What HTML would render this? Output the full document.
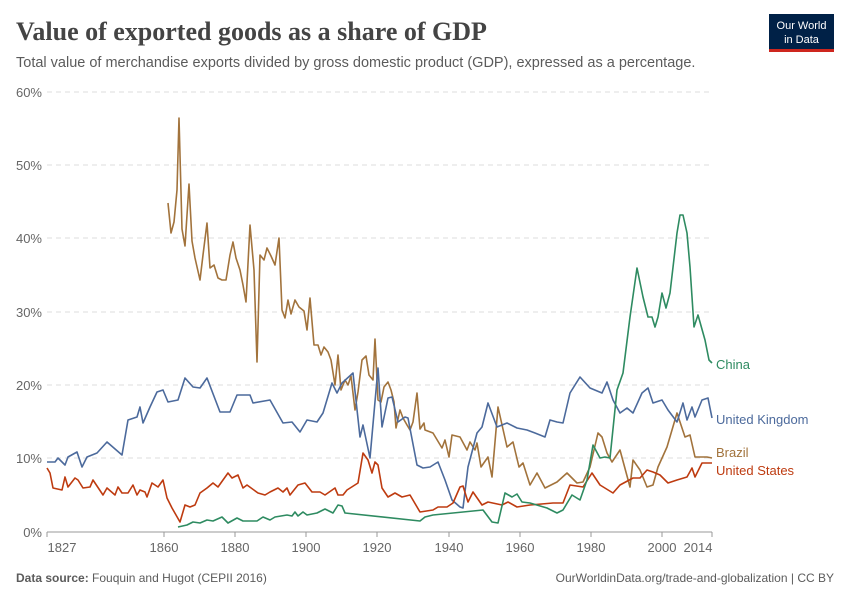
<!DOCTYPE html>
<html><head><meta charset="utf-8"><style>
body{margin:0;width:850px;height:600px;background:#fff;overflow:hidden;font-family:"Liberation Sans",sans-serif}
</style></head><body>
<svg width="850" height="600" xmlns="http://www.w3.org/2000/svg" font-family="Liberation Sans, sans-serif">
<text x="16" y="40" font-family="Liberation Serif, serif" font-weight="bold" font-size="26" fill="#444">Value of exported goods as a share of GDP</text>
<text x="16" y="67" font-size="14.5" fill="#5b5b5b">Total value of merchandise exports divided by gross domestic product (GDP), expressed as a percentage.</text>
<rect x="769" y="14" width="65" height="36" fill="#002147"/>
<rect x="769" y="49" width="65" height="3" fill="#ce261e"/>
<text x="801.5" y="29" font-size="11" fill="#fff" text-anchor="middle">Our World</text>
<text x="801.5" y="43" font-size="11" fill="#fff" text-anchor="middle">in Data</text>
<g stroke="#ddd" stroke-dasharray="5,4" stroke-width="1">
<line x1="47" x2="712" y1="92" y2="92"/><line x1="47" x2="712" y1="165" y2="165"/><line x1="47" x2="712" y1="238" y2="238"/><line x1="47" x2="712" y1="312" y2="312"/><line x1="47" x2="712" y1="385" y2="385"/><line x1="47" x2="712" y1="458" y2="458"/>
</g>
<line x1="47" x2="712" y1="532" y2="532" stroke="#999"/>
<g stroke="#999"><line x1="47" x2="47" y1="532" y2="537"/><line x1="164" x2="164" y1="532" y2="537"/><line x1="235" x2="235" y1="532" y2="537"/><line x1="306" x2="306" y1="532" y2="537"/><line x1="377" x2="377" y1="532" y2="537"/><line x1="449" x2="449" y1="532" y2="537"/><line x1="520" x2="520" y1="532" y2="537"/><line x1="591" x2="591" y1="532" y2="537"/><line x1="662" x2="662" y1="532" y2="537"/><line x1="712" x2="712" y1="532" y2="537"/></g>
<g font-size="13" fill="#666">
<text x="42" y="97" text-anchor="end">60%</text><text x="42" y="170" text-anchor="end">50%</text><text x="42" y="243" text-anchor="end">40%</text><text x="42" y="317" text-anchor="end">30%</text><text x="42" y="390" text-anchor="end">20%</text><text x="42" y="463" text-anchor="end">10%</text><text x="42" y="537" text-anchor="end">0%</text>
<g text-anchor="middle"><text x="62" y="552">1827</text><text x="164" y="552">1860</text><text x="235" y="552">1880</text><text x="306" y="552">1900</text><text x="377" y="552">1920</text><text x="449" y="552">1940</text><text x="520" y="552">1960</text><text x="591" y="552">1980</text><text x="662" y="552">2000</text><text x="698" y="552">2014</text></g>
</g>
<g fill="none" stroke-width="1.6" stroke-linejoin="round">
<polyline stroke="#a2733c" points="168,203 171,233 174,222 177,190 179,118 182,229 185,246 189,184 192,241 195,258 200,280 203,255 207,223 210,268 214,265 218,278 222,280 226,280 230,255 233,242 236,258 240,270 243,285 246,302 250,225 254,270 257,362 260,255 264,260 267,248 271,256 275,265 279,238 282,310 285,318 288,300 291,314 295,300 299,307 304,311 307,330 310,298 314,345 318,345 321,355 324,347 328,352 331,360 335,385 338,355 341,390 345,380 348,385 351,376 355,410 358,392 362,360 366,356 369,375 373,380 375,339 378,400 381,402 384,387 388,382 391,390 394,402 396,428 400,410 403,418 407,425 410,430 413,422 417,393 420,429 424,423 425,430 433,433 442,448 445,440 449,457 452,435 460,437 467,450 470,442 475,450 477,443 481,467 488,457 492,477 498,407 507,447 513,442 519,467 523,463 530,485 537,473 545,488 557,482 567,473 577,483 583,482 590,467 598,433 602,437 607,453 612,462 620,450 630,487 633,460 640,470 647,487 653,485 658,467 667,447 677,413 685,437 690,435 695,457 700,457 707,457 712,458"/>
<polyline stroke="#4c6a9c" points="47,462 55,462 58,458 65,465 68,457 77,452 82,467 87,457 97,453 107,442 122,455 128,420 137,417 140,407 143,423 150,407 157,392 163,390 168,402 178,400 185,378 193,387 200,388 207,378 220,412 230,412 237,395 250,395 253,403 270,400 283,423 292,422 300,432 307,420 317,422 323,413 332,383 337,393 342,383 353,373 360,437 363,425 370,458 378,368 382,427 388,398 392,397 398,422 405,417 408,418 417,465 423,468 430,467 438,462 445,480 452,500 460,507 463,508 468,467 477,433 482,427 488,403 497,427 507,423 517,428 527,430 535,433 545,437 550,420 557,422 563,423 570,393 580,377 590,388 602,393 607,382 613,400 620,413 627,408 633,413 642,393 648,388 653,403 662,400 668,410 677,422 683,403 687,420 692,407 695,417 702,400 708,398 712,418"/>
<polyline stroke="#be3b10" points="47,468 50,473 53,488 62,490 65,477 68,487 75,478 78,480 83,488 90,487 93,480 103,495 107,488 115,495 118,487 122,493 128,493 133,485 137,495 140,490 145,492 147,497 152,483 158,487 163,480 167,498 172,508 180,522 185,505 190,507 195,505 200,493 207,488 213,483 218,487 228,473 232,478 238,475 243,488 247,485 258,493 265,495 270,492 278,488 283,492 287,488 290,495 298,485 305,483 312,492 320,492 325,495 335,488 338,495 343,495 347,490 358,483 363,453 368,460 372,473 375,462 378,465 382,488 388,497 395,493 402,497 410,495 420,512 433,510 438,507 447,507 453,503 460,487 463,486 468,502 473,492 482,505 488,502 502,505 508,502 517,507 530,505 553,503 563,503 570,485 583,487 592,473 600,485 613,493 620,485 633,478 640,478 647,470 653,472 660,475 668,483 677,480 687,477 692,468 695,477 702,463 712,463"/>
<polyline stroke="#2e8b61" points="178,527 187,525 193,522 200,523 207,520 213,521 222,517 228,523 237,518 243,521 257,521 263,517 270,520 275,517 287,515 292,516 295,512 298,516 303,512 307,515 317,513 325,509 333,513 338,505 342,506 345,513 420,521 425,517 433,515 483,510 492,522 498,523 505,493 512,497 517,494 522,502 530,503 547,508 557,513 563,510 572,495 580,500 587,480 593,445 600,458 605,457 610,458 617,390 623,373 630,317 637,268 643,297 648,317 652,317 655,327 658,317 662,293 666,308 670,293 677,233 680,215 683,215 687,233 690,267 694,327 698,315 705,340 709,360 712,363"/>
</g>
<g font-size="13">
<text x="716" y="369" fill="#2e8b61">China</text>
<text x="716" y="424" fill="#4c6a9c">United Kingdom</text>
<text x="716" y="457" fill="#a2733c">Brazil</text>
<text x="716" y="475" fill="#be3b10">United States</text>
</g>
<text x="16" y="582" font-size="12" fill="#5b5b5b"><tspan font-weight="bold">Data source:</tspan> Fouquin and Hugot (CEPII 2016)</text>
<text x="834" y="582" font-size="12" fill="#5b5b5b" text-anchor="end">OurWorldinData.org/trade-and-globalization | CC BY</text>
</svg>
</body></html>
